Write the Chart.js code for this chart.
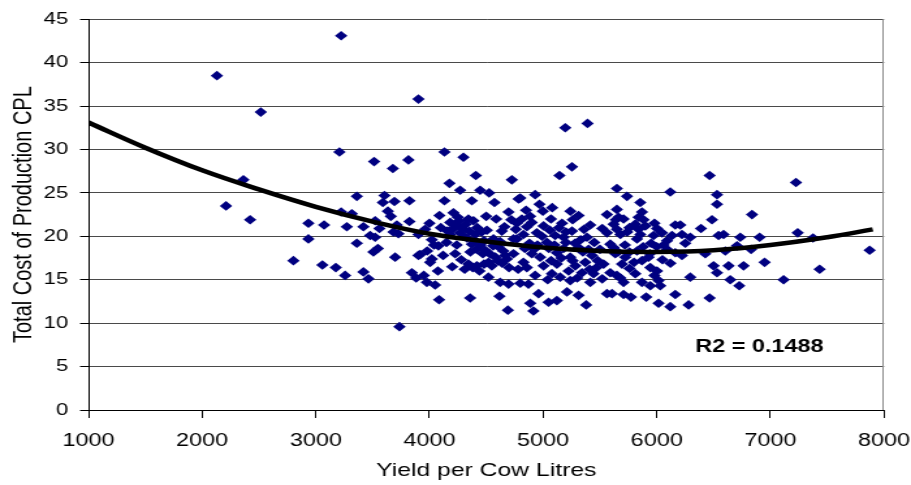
<!DOCTYPE html>
<html>
<head>
<meta charset="utf-8">
<script src="https://cdn.jsdelivr.net/npm/chart.js@4/dist/chart.umd.min.js"></script>
<style>
html,body{margin:0;padding:0;background:#fff;overflow:hidden}
canvas{display:block}
</style>
</head>
<body>
<canvas id="c" width="700" height="485" style="width:911px;height:485px"></canvas>
<script>
// ---- Data: [yield per cow (litres), total cost of production (CPL)]
const pts2000s = [
  [2130,38.5],[2516,34.3],[2363,26.5],[2210,23.5],[2422,21.9],[2803,17.2]
];
const pts3000s = [
  [3223,43.1],[3903,35.8],[3208,29.7],[3513,28.6],[3678,27.8],[3815,28.8],[3361,24.6],[3604,24.7],
  [3590,23.9],[3692,24.0],[3824,24.1],[3634,22.9],[3660,22.3],[3223,22.8],[3317,22.6],[3522,21.8],
  [3560,20.9],[3713,21.3],[3824,21.7],[2935,21.5],[3073,21.3],[3273,21.1],[3419,21.1],[3478,20.1],
  [3522,19.9],[3683,20.5],[3727,20.3],[2935,19.7],[3361,19.2],[3546,18.6],[3507,18.2],[3698,17.6],
  [3903,17.8],[3058,16.7],[3176,16.4],[3258,15.5],[3419,15.9],[3463,15.1],[3845,15.8],[3883,15.2],
  [3736,9.6]
];
const pts4000s = [
  [4132,29.7],[4299,29.1],[4408,27.0],[4176,26.1],[4270,25.3],[4446,25.3],[4525,25.0],[4725,26.5],
  [4132,24.1],[4373,24.1],[4572,23.9],[4784,24.3],[4088,22.4],[4211,22.7],[4499,22.3],[4587,22.0],
  [4696,22.8],[4182,21.6],[4343,22.0],[4387,21.8],[4660,21.1],[3962,20.8],[4211,20.9],[4285,20.9],
  [4505,20.7],[4637,20.6],[4739,19.7],[3903,20.2],[4021,19.6],[4182,20.2],[4270,20.4],[4402,20.2],
  [4563,19.7],[4079,18.9],[4373,19.1],[4417,18.5],[4607,18.8],[3918,17.9],[4226,18.0],[4490,18.4],
  [4666,17.8],[4021,17.4],[4343,16.8],[4417,16.6],[4549,16.6],[4006,17.0],[4681,17.4],[4074,16.0],
  [3977,14.7],[4050,14.4],[4519,15.3],[4622,14.7],[4696,14.5],[4085,12.7],[4358,12.9],[4616,13.1],
  [4690,11.5],[4230,21.3],[4260,21.8],[4300,20.0],[4350,20.6],[4160,20.6],[4250,22.2],[4320,21.4],
  [4400,19.5],[4450,19.0],[4470,18.0],[4480,19.5],[4360,18.2],[4600,17.2],[4640,16.9],[4580,17.6],
  [4700,16.4],[4310,16.2],[4380,16.4],[4440,16.0],[4040,19.0],[3980,18.3],[4100,21.0],[4120,17.8],
  [3950,15.5],[4000,21.5],[4150,19.3],[4240,19.0],[4330,19.8],[4460,20.5],[4530,18.0],[4560,18.9],
  [4620,19.4],[4480,16.8],[4520,17.0],[4280,17.3],[4200,16.5],[4650,18.3],[4760,20.8],[4720,21.9],
  [4420,21.0]
];
const pts5000s = [
  [5195,32.5],[5391,33.0],[5144,27.0],[5254,28.0],[5649,25.5],[4799,24.4],[4930,24.8],[4968,23.7],
  [4998,22.9],[5312,22.4],[4886,22.3],[4813,22.0],[4769,21.5],[5069,22.0],[5166,21.5],[5415,21.3],
  [5562,22.5],[5649,23.1],[4857,21.1],[5004,21.2],[5254,20.6],[5620,21.4],[4827,20.2],[4945,20.4],
  [5106,20.1],[5180,19.9],[5386,19.9],[5562,20.4],[4769,19.7],[5033,19.3],[5312,18.7],[5591,19.1],
  [4739,18.0],[4901,18.0],[5121,18.1],[5239,17.6],[5430,17.8],[5635,18.0],[4827,17.0],[4974,17.6],
  [5121,16.8],[5283,16.6],[5371,17.0],[5532,16.8],[4857,16.4],[5004,16.6],[5224,16.0],[5342,15.8],
  [5444,15.7],[5591,15.8],[4930,15.5],[5077,15.7],[4799,14.6],[4871,14.5],[5239,14.9],[5415,14.7],
  [4960,13.4],[5210,13.6],[5312,13.2],[5562,13.4],[5606,13.4],[4887,12.3],[5048,12.4],[5121,12.6],
  [5379,12.1],[4915,11.4],[4850,23.0],[4900,21.6],[5140,21.0],[5200,20.5],[5050,18.6],[4950,19.0],
  [5180,18.6],[5280,19.2],[5350,18.2],[5450,19.3],[5500,18.5],[5480,17.2],[5260,17.2],[5150,15.3],
  [5300,15.2],[5040,15.0],[4780,16.2],[5520,20.9],[5080,23.3],[5260,21.9],[4880,19.2],[4920,18.5],
  [4990,20.0],[5060,20.7],[5100,19.0],[5160,17.5],[5200,19.3],[5330,19.6],[5360,20.8],[5400,18.5],
  [5470,16.4],[5520,15.1],[5070,17.2],[4840,18.6],[5410,16.2],[5240,22.9]
];
const pts6000s = [
  [6465,27.0],[6530,24.8],[6530,23.7],[6119,25.1],[5738,24.6],[5855,23.9],[5870,22.8],[5664,22.2],
  [5708,22.0],[5840,22.2],[5884,21.9],[5811,21.4],[6486,21.9],[5649,20.8],[5840,20.8],[6002,20.9],
  [6163,21.3],[6207,21.3],[6389,20.9],[5855,20.2],[5972,20.1],[6046,20.4],[6134,20.1],[6222,20.2],
  [6295,19.9],[6544,20.1],[5826,19.7],[6090,19.5],[6251,19.2],[5620,18.7],[5826,18.3],[6090,18.5],
  [6163,18.1],[6222,17.8],[6427,18.0],[5723,17.6],[5928,17.6],[5694,16.8],[5870,17.2],[6500,16.6],
  [5943,16.4],[6002,16.0],[6530,15.8],[5811,15.7],[5649,15.5],[6295,15.3],[5708,14.7],[5870,14.7],
  [6016,14.9],[5943,14.3],[6031,14.3],[5708,13.3],[5773,13.0],[5907,13.0],[6163,13.3],[6465,12.9],
  [6016,12.3],[6119,11.9],[6280,12.1],[5760,21.0],[5900,21.2],[5720,19.0],[5880,18.8],[5940,18.0],
  [6050,17.3],[5760,16.3],[5680,15.2],[5980,15.5],[6060,19.0],[5640,21.9],[5680,20.2],[5760,18.2],
  [5800,17.0],[5950,19.2],[6000,18.8],[5660,18.2],[5740,20.5],[6120,16.9],[5980,21.5]
];
const pts7000s = [
  [7225,26.2],[6838,22.5],[6588,20.2],[6735,19.9],[6905,19.9],[7240,20.4],[7375,19.8],[6706,18.9],
  [6603,18.3],[6830,18.5],[7873,18.4],[6632,16.6],[6764,16.6],[6949,17.0],[6647,15.0],[6726,14.3],
  [7116,15.0],[7433,16.2]
];

// Trend line (polynomial trendline in the reference), read at intervals from the picture
const trendYield = [1000,1500,2000,2500,3000,3500,4000,4500,5000,5500,6000,6500,7000,7500,7900];
const trendCost  = [33.1,30.2,27.6,25.4,23.4,21.7,20.3,19.4,18.7,18.3,18.2,18.4,19.0,19.9,20.8];

// Axis ticks and labels
const xTicks = [1000,2000,3000,4000,5000,6000,7000,8000];
const yTicks = [0,5,10,15,20,25,30,35,40,45];
const xTitle = 'Yield per Cow Litres';
const yTitle = 'Total Cost of Production CPL';
const r2Label = 'R2 = 0.1488';
const r2Anchor = [6339, 6.68];

const FONT = '"Liberation Sans", Arial, Helvetica, sans-serif';

const scatterPoints = [].concat(pts2000s, pts3000s, pts4000s, pts5000s, pts6000s, pts7000s)
  .map(p => ({x: p[0], y: p[1]}));
const trendPoints = trendYield.map((v, i) => ({x: v, y: trendCost[i]}));

const extras = {
  id: 'extras',
  afterDatasetsDraw(chart) {
    const {ctx, chartArea: a, scales: {x, y}} = chart;
    ctx.save();
    ctx.strokeStyle = '#8c8c8c';
    ctx.lineWidth = 1;
    const rx = Math.round(a.right) - 0.5;
    ctx.beginPath();
    ctx.moveTo(rx, a.top);
    ctx.lineTo(rx, a.bottom);
    ctx.stroke();
    ctx.font = 'bold 18px ' + FONT;
    ctx.fillStyle = '#000';
    ctx.textAlign = 'left';
    ctx.textBaseline = 'alphabetic';
    ctx.fillText(r2Label, x.getPixelForValue(r2Anchor[0]), y.getPixelForValue(r2Anchor[1]));
    ctx.restore();
  }
};

new Chart(document.getElementById('c'), {
  type: 'scatter',
  data: {
    datasets: [
      {
        data: scatterPoints,
        pointStyle: 'rectRot',
        pointRadius: 4.8,
        backgroundColor: '#000080',
        borderColor: '#000080',
        borderWidth: 0,
        order: 2
      },
      {
        data: trendPoints,
        showLine: true,
        borderColor: '#000000',
        borderWidth: 4.5,
        pointRadius: 0,
        tension: 0.4,
        fill: false,
        order: 1
      }
    ]
  },
  options: {
    responsive: false,
    devicePixelRatio: 1,
    animation: false,
    events: [],
    layout: {padding: {left: 0, right: 20.7, top: 17.3, bottom: 0}},
    plugins: {legend: {display: false}, tooltip: {enabled: false}},
    scales: {
      x: {
        type: 'linear',
        min: xTicks[0],
        max: xTicks[xTicks.length - 1],
        afterBuildTicks(s) { s.ticks = xTicks.map(v => ({value: v})); },
        ticks: {font: {family: FONT, size: 18}, color: '#000', padding: 12, maxRotation: 0, autoSkip: false,
                callback: v => String(v)},
        grid: {drawOnChartArea: false, tickLength: 8, tickColor: '#000', tickWidth: 1},
        border: {color: '#000', width: 1},
        title: {display: true, text: xTitle, color: '#000', font: {family: FONT, size: 19}, padding: {top: 0, bottom: 3.2}},
        afterFit(s) { s.height = 75; s.paddingLeft = 0; s.paddingRight = 0; }
      },
      y: {
        min: yTicks[0],
        max: yTicks[yTicks.length - 1],
        afterBuildTicks(s) { s.ticks = yTicks.map(v => ({value: v})); },
        ticks: {font: {family: FONT, size: 17}, color: '#000', padding: 9, autoSkip: false,
                callback: v => String(v)},
        grid: {color: '#4a4a4a', lineWidth: 1, tickLength: 6.5, tickColor: '#000'},
        border: {color: '#000', width: 1},
        title: {display: true, text: yTitle, color: '#000', font: {family: FONT, size: 20}, padding: {top: 6, bottom: 0}},
        afterFit(s) { s.width = 68; }
      }
    }
  },
  plugins: [extras]
});
</script>
</body>
</html>
